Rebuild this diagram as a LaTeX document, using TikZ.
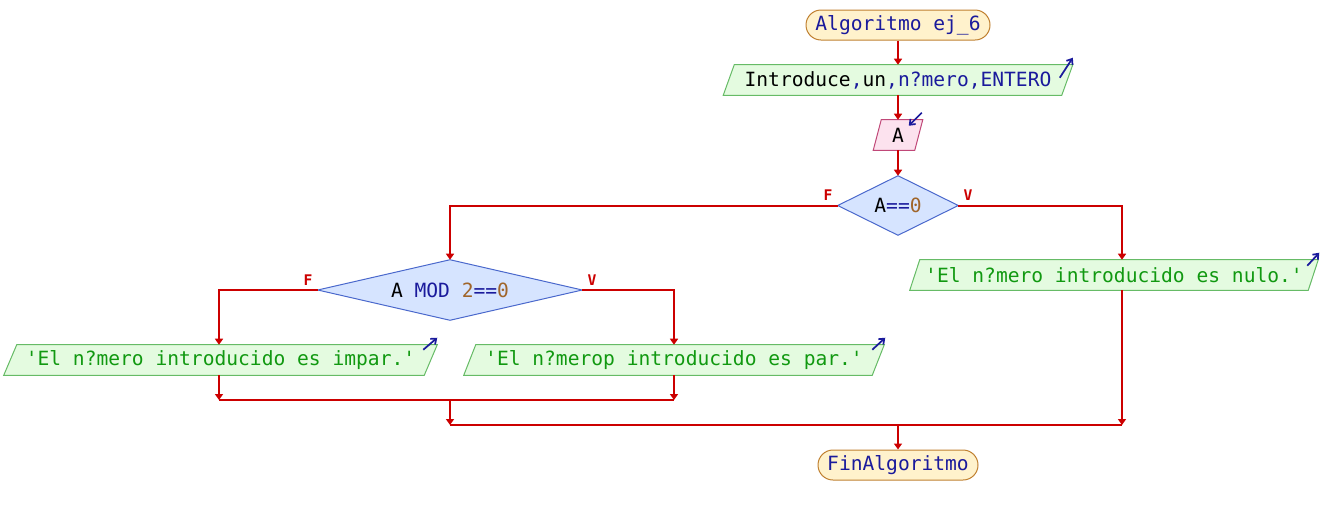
\documentclass[tikz,border=0pt]{standalone}
\usepackage{fontspec}
\setmonofont{DejaVu Sans Mono}
\usetikzlibrary{arrows.meta,calc,backgrounds}
\definecolor{flowred}{HTML}{CC0000}
\definecolor{navy}{HTML}{1A1A9C}
\definecolor{strgreen}{HTML}{119911}
\definecolor{numbrown}{HTML}{A0652A}
\definecolor{termfill}{HTML}{FFF2CC}
\definecolor{termdraw}{HTML}{C08030}
\definecolor{iofill}{HTML}{E4FBE0}
\definecolor{iodraw}{HTML}{66BB66}
\definecolor{readfill}{HTML}{FCE2EE}
\definecolor{readdraw}{HTML}{C04878}
\definecolor{decfill}{HTML}{D6E4FF}
\definecolor{decdraw}{HTML}{4A68CC}
\newcommand\paral[3]{\draw[#3] ($(#1.north west)+(#2,0)$) -- (#1.north east) -- ($(#1.south east)-(#2,0)$) -- (#1.south west) -- cycle;}
\newcommand\diam[1]{\draw[decshape] (#1.west) -- (#1.north) -- (#1.east) -- (#1.south) -- cycle;}
\begin{document}
\begin{tikzpicture}[x=0.75pt,y=-0.75pt,
  font=\ttfamily\fontsize{14.7pt}{16pt}\selectfont,
  box/.style={inner sep=0pt,minimum height=22.5pt,anchor=center},
  term/.style={box,draw=termdraw,fill=termfill,line width=0.75pt,rounded corners=11.25pt,text=navy},
  ioshape/.style={draw=iodraw,fill=iofill,line width=0.75pt},
  readshape/.style={draw=readdraw,fill=readfill,line width=0.75pt},
  decshape/.style={draw=decdraw,fill=decfill,line width=0.75pt},
  flow/.style={draw=flowred,line width=1.5pt},
  arr/.style={flow,-{Triangle[width=6pt,length=4.5pt]}},
  lab/.style={text=flowred,font=\ttfamily\fontsize{11pt}{12pt}\selectfont\bfseries,inner sep=0pt},
  mini/.style={draw=navy,line width=1.3pt,-{Straight Barb[width=5.5pt,length=3.5pt]}}]
\useasboundingbox (0,0) rectangle (1336,515);
% nodes
\node[term,minimum width=138pt] (start) at (898,25) {Algoritmo ej\_6};
\node[box,minimum width=261.75pt] (in1) at (898,80) {Introduce{\color{navy},}un{\color{navy},n?mero,ENTERO}};
\node[box,minimum width=36.75pt] (rd) at (898,135) {A};
\node[box,minimum width=90pt,minimum height=44.25pt] (d1) at (898,205.5) {A{\color{navy}==}{\color{numbrown}0}};
\node[box,minimum width=306pt,text=strgreen] (nulo) at (1114,275) {'El n?mero introducido es nulo.'};
\node[box,minimum width=198pt,minimum height=45pt] (d2) at (450,290) {A {\color{navy}MOD} {\color{numbrown}2}{\color{navy}==}{\color{numbrown}0}};
\node[box,minimum width=324.75pt,text=strgreen] (impar) at (220.5,360) {'El n?mero introducido es impar.'};
\node[box,minimum width=315pt,text=strgreen] (par) at (674,360) {'El n?merop introducido es par.'};
\node[term,minimum width=120pt] (fin) at (898,465) {FinAlgoritmo};
% shapes
\begin{pgfonlayer}{background}
\paral{in1}{11}{ioshape}
\paral{rd}{8}{readshape}
\paral{nulo}{10}{ioshape}
\paral{impar}{13}{ioshape}
\paral{par}{12}{ioshape}
\diam{d1}
\diam{d2}
\end{pgfonlayer}
% small arrows
\draw[mini] ($(in1.north east)+(-13,13)$) -- ($(in1.north east)+(0,-7)$);
\draw[mini] ($(rd.north east)+(-1,-7)$) -- ($(rd.north east)+(-14,6)$);
\draw[mini] ($(nulo.north east)+(-11,6)$) -- ($(nulo.north east)+(1,-7)$);
\draw[mini] ($(impar.north east)+(-14,5)$) -- ($(impar.north east)+(0,-7)$);
\draw[mini] ($(par.north east)+(-12,5)$) -- ($(par.north east)+(1,-7)$);
% junction coordinates
\coordinate (j1) at (219,400);
\coordinate (j2) at (674,400);
\coordinate (j3) at (450,425);
\coordinate (j4) at (1122,425);
\coordinate (j5) at (898,425);
% connectors
\draw[arr] (start) -- (in1);
\draw[arr] (in1) -- (rd);
\draw[arr] (rd) -- (d1);
\draw[arr] (d1.west) -| (d2.north);
\draw[arr] (d1.east) -| (j4 |- nulo.north);
\draw[arr] (d2.west) -| (j1 |- impar.north);
\draw[arr] (d2.east) -| (par.north);
\draw[arr] (j1 |- impar.south) -- (j1);
\draw[arr] (par.south) -- (j2);
\draw[flow] (j1) -- (j2);
\draw[arr] (j3 |- j1) -- (j3);
\draw[arr] (j4 |- nulo.south) -- (j4);
\draw[flow] (j3) -- (j4);
\draw[arr] (j5) -- (fin.north);
% labels
\node[lab] (f1) at (828,195) {F};
\node[lab] (v1) at (968,195) {V};
\node[lab] (f2) at (308,280) {F};
\node[lab] (v2) at (592,280) {V};
\end{tikzpicture}
\end{document}
